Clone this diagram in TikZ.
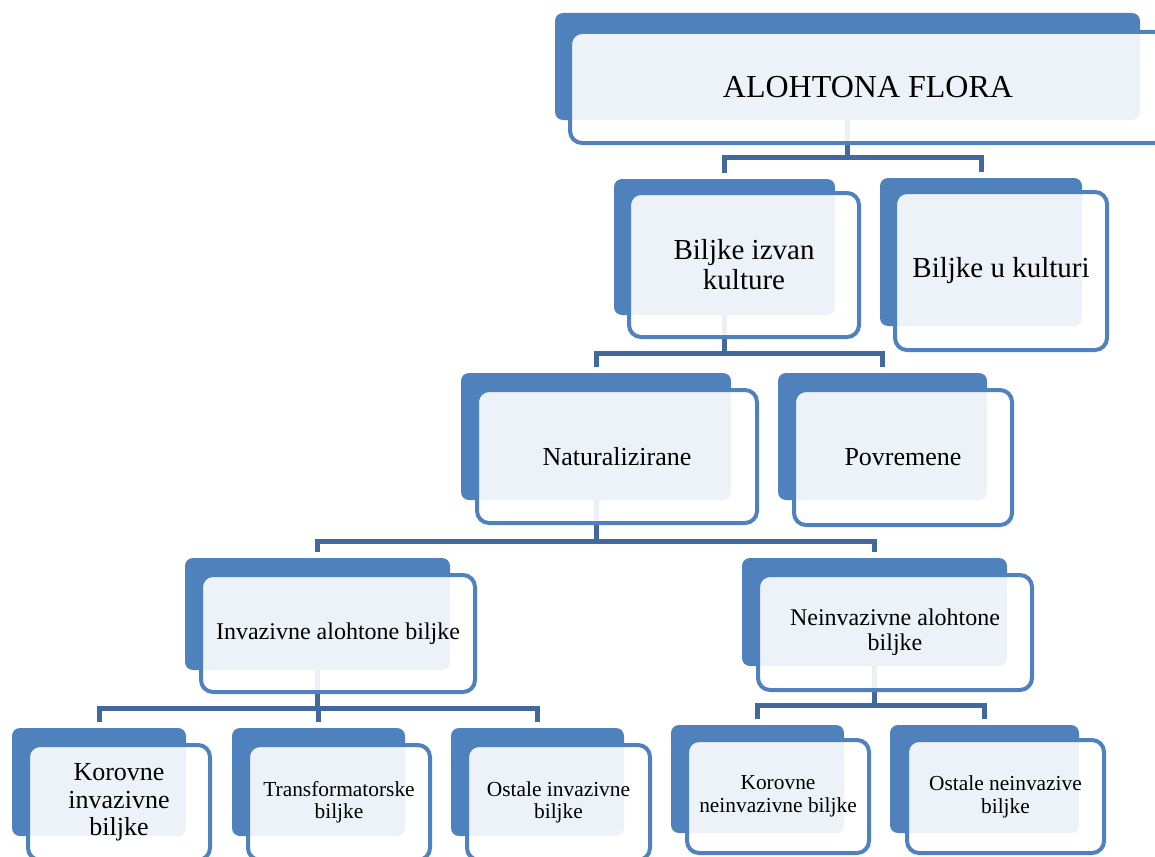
\documentclass[tikz,border=0pt]{standalone}
\usepackage{fontspec}
\setmainfont{Liberation Serif}
\usetikzlibrary{backgrounds}
\definecolor{boxblue}{HTML}{4F81BD}
\definecolor{connblue}{HTML}{41699D}
\tikzset{
  backbox/.style 2 args={draw=none, fill=boxblue, rounded corners=8pt, inner sep=0pt, outer sep=0pt,
    minimum width=#1pt, minimum height=#2pt},
  frontbox/.style n args={4}{draw=boxblue, line width=4pt, fill=white, fill opacity=0.9, text opacity=1,
    rounded corners=12pt, inner sep=0pt, outer sep=0pt, align=center,
    minimum width=#1pt, minimum height=#2pt, font=\fontsize{#3pt}{#4pt}\selectfont},
  conn/.style={draw=connblue, line width=5pt, shorten >=6pt}
}
\begin{document}
\begin{tikzpicture}[x=1pt,y=-1pt]
\useasboundingbox (0,0) rectangle (1155,856);
% level 1
\node[backbox={585}{107}] (topb) at (847.5,66.5) {};
\node[frontbox={596}{111}{32}{37}] (top) at (868,87.5) {ALOHTONA FLORA};
% level 2
\node[backbox={221}{136}] (bikb) at (724.5,247) {};
\node[frontbox={230}{144}{29}{30}] (bik) at (744,265) {Biljke izvan\\kulture};
\node[backbox={202}{148}] (bukb) at (981,252) {};
\node[frontbox={212}{158}{29}{30}] (buk) at (1001,271) {Biljke u kulturi};
% level 3
\node[backbox={270}{127}] (natb) at (596,436.5) {};
\node[frontbox={280}{133}{26}{28}] (nat) at (617,456.5) {Naturalizirane};
\node[backbox={209}{127}] (povb) at (882.5,436.5) {};
\node[frontbox={218}{135}{26}{28}] (pov) at (903,457.5) {Povremene};
% level 4
\node[backbox={265}{112}] (invb) at (317.5,614) {};
\node[frontbox={274}{117}{24}{25}] (inv) at (338,633.5) {Invazivne alohtone biljke};
\node[backbox={265}{108}] (neib) at (874.5,612) {};
\node[frontbox={274}{115}{24}{25}] (nei) at (895,632.5) {Neinvazivne alohtone\\biljke};
% level 5
\node[backbox={174}{108}] (kibb) at (99,782) {};
\node[frontbox={182}{115}{26}{27.5}] (kib) at (119,802.5) {Korovne\\invazivne\\biljke};
\node[backbox={173}{108}] (trbb) at (318.5,782) {};
\node[frontbox={182}{115}{21.4}{22}] (trb) at (339,802.5) {Transformatorske\\biljke};
\node[backbox={173}{108}] (oibb) at (537.5,782) {};
\node[frontbox={183}{115}{21.4}{22}] (oib) at (558.5,802.5) {Ostale invazivne\\biljke};
\node[backbox={173}{108}] (knbb) at (757.5,779) {};
\node[frontbox={182}{113}{21.4}{23}] (knb) at (778,796.5) {Korovne\\neinvazivne biljke};
\node[backbox={189}{108}] (onbb) at (984.5,779) {};
\node[frontbox={197}{113}{21.4}{23}] (onb) at (1005.5,796.5) {Ostale neinvazive\\biljke};
% connectors
\begin{scope}[on background layer]
\draw[conn] (topb.south) -- ++(0,37) -| (bikb.north);
\draw[conn] (topb.south) -- ++(0,37) -| (bukb.north);
\draw[conn] (bikb.south) -- ++(0,38) -| (natb.north);
\draw[conn] (bikb.south) -- ++(0,38) -| (povb.north);
\draw[conn] (natb.south) -- ++(0,41) -| (invb.north);
\draw[conn] (natb.south) -- ++(0,41) -| (neib.north);
\draw[conn] (invb.south) -- ++(0,38) -| (kibb.north);
\draw[conn] (invb.south) -- ++(0,38) -| (trbb.north);
\draw[conn] (invb.south) -- ++(0,38) -| (oibb.north);
\draw[conn] (neib.south) -- ++(0,39) -| (knbb.north);
\draw[conn] (neib.south) -- ++(0,39) -| (onbb.north);
\end{scope}
\end{tikzpicture}
\end{document}
